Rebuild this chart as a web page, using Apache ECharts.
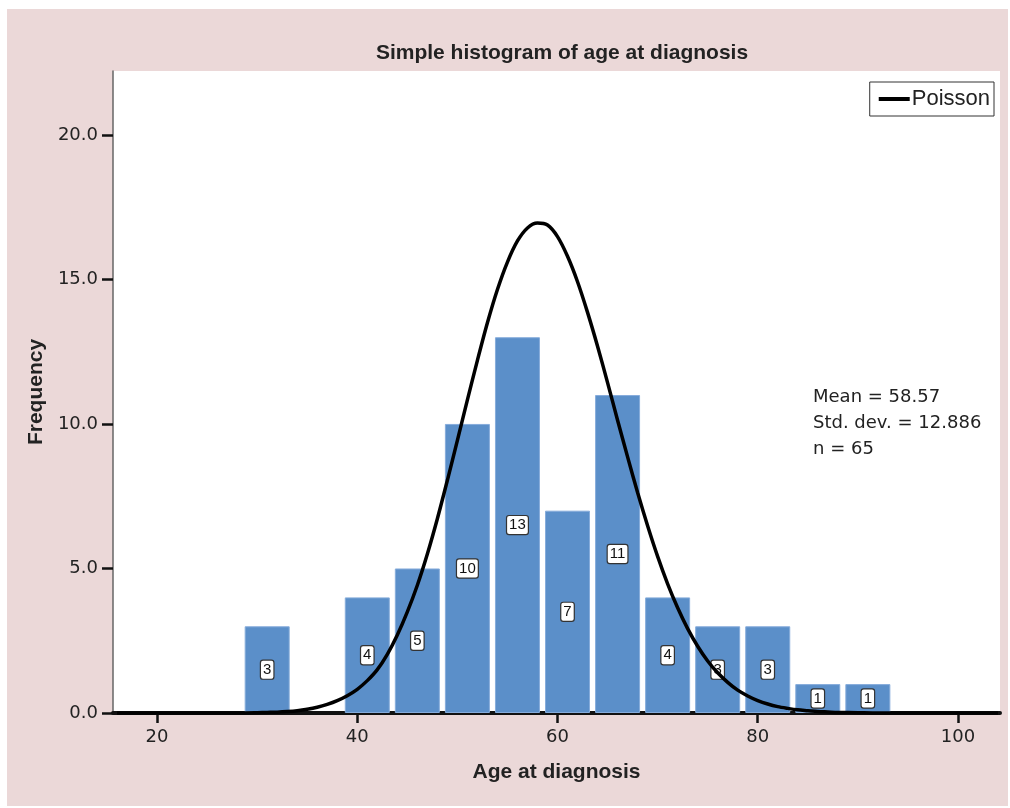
<!DOCTYPE html>
<html><head><meta charset="utf-8">
<script src="https://cdn.jsdelivr.net/npm/echarts@6/dist/echarts.min.js"></script>
<style>
html,body{margin:0;padding:0;background:#fff;}
#bg{position:absolute;left:7px;top:9px;width:1001px;height:797px;background:#ebd8d8;}
#chart{position:absolute;left:0;top:0;width:1010px;height:808px;}
</style></head>
<body>
<div id="bg"></div>
<div id="chart"></div>
<script>
// Histogram bins (centres) and frequencies
const binCentres = [31, 41, 46, 51, 56, 61, 66, 71, 76, 81, 86, 91];
const frequencies = [3, 4, 5, 10, 13, 7, 11, 4, 3, 3, 1, 1];
// Poisson curve
const curveX = [16, 28, 30, 31, 32, 33, 34, 35, 36, 37, 38, 39, 40, 41, 42, 43, 44, 45, 46, 47, 48, 49, 50,
  51, 52, 53, 54, 55, 56, 57, 58, 59, 60, 61, 62, 63, 64, 65, 66, 67, 68, 69, 70,
  71, 72, 73, 74, 75, 76, 77, 78, 79, 80, 81, 82, 83, 84, 85, 86, 87, 88, 90, 92, 104];
const curveY = [0, 0, 0.01, 0.02, 0.03, 0.05, 0.08, 0.13, 0.2, 0.3, 0.43, 0.6, 0.82, 1.12, 1.5, 2.03, 2.7, 3.5, 4.42, 5.5, 6.72, 8.05, 9.43,
  10.83, 12.2, 13.5, 14.65, 15.6, 16.33, 16.78, 16.95, 16.88, 16.48, 15.8, 14.92, 13.86, 12.69, 11.43, 10.13, 8.86, 7.63, 6.48, 5.42,
  4.47, 3.64, 2.92, 2.31, 1.8, 1.39, 1.06, 0.79, 0.59, 0.43, 0.31, 0.22, 0.16, 0.11, 0.08, 0.05, 0.035, 0.02, 0.01, 0, 0];
const xTicks = [20, 40, 60, 80, 100];
const yTicks = [0, 5, 10, 15, 20];
const statsLines = ['Mean = 58.57', 'Std. dev. = 12.886', 'n = 65'];

const BOLD = '"Liberation Sans", Arial, sans-serif';
const REG = '"DejaVu Sans", sans-serif';
const chart = echarts.init(document.getElementById('chart'));
const option = {
  animation: false,
  backgroundColor: 'transparent',
  title: {
    text: 'Simple histogram of age at diagnosis',
    left: 557, top: 38, textAlign: 'center',
    textStyle: {fontFamily: BOLD, fontSize: 21, fontWeight: 'bold', color: '#222'}
  },
  legend: {
    show: true, right: 16, top: 82,
    data: [{name: 'Poisson', icon: 'rect'}],
    itemWidth: 31, itemHeight: 4, itemGap: 2,
    backgroundColor: '#fff', borderColor: '#333', borderWidth: 1, borderRadius: 0,
    padding: [6, 4, 6, 9],
    textStyle: {fontFamily: BOLD, fontSize: 22, color: '#222', padding: [0, 0, 0, -3]}
  },
  grid: {left: 113, right: 10, top: 71, bottom: 95, show: true, backgroundColor: '#fff', borderWidth: 0},
  xAxis: {
    type: 'value', min: 15.6, max: 104.2,
    name: 'Age at diagnosis', nameLocation: 'middle', nameGap: 49,
    nameTextStyle: {fontFamily: BOLD, fontSize: 21, fontWeight: 'bold', color: '#222'},
    axisLine: {show: true, onZero: false, lineStyle: {color: '#111', width: 4}},
    axisTick: {show: true, customValues: xTicks, length: 10, lineStyle: {color: '#111', width: 2.5}},
    axisLabel: {customValues: xTicks, fontFamily: REG, fontSize: 18, color: '#222', margin: 15},
    splitLine: {show: false}
  },
  yAxis: {
    type: 'value', min: 0, max: 22.21, interval: 5,
    name: 'Frequency', nameLocation: 'middle', nameGap: 64, nameRotate: 90,
    nameTextStyle: {fontFamily: BOLD, fontSize: 21, fontWeight: 'bold', color: '#222'},
    axisLine: {show: true, lineStyle: {color: '#666', width: 1.5}},
    axisTick: {show: true, inside: false, customValues: yTicks, length: 11, lineStyle: {color: '#111', width: 2.5}},
    axisLabel: {customValues: yTicks, fontFamily: REG, fontSize: 18, color: '#222', margin: 15,
      formatter: v => Number(v).toFixed(1)},
    splitLine: {show: false}
  },
  series: [
    {
      name: 'Histogram', type: 'bar', barWidth: 45,
      data: binCentres.map((c, i) => [c, frequencies[i]]),
      itemStyle: {color: '#5b8fc9', borderColor: '#86acdb', borderWidth: 1},
      label: {
        show: true, position: 'inside',
        formatter: p => String(p.value[1]),
        fontFamily: BOLD, fontSize: 15, color: '#111',
        backgroundColor: '#fff', borderColor: '#333', borderWidth: 1.2, borderRadius: 2,
        padding: [2, 2, 1, 2]
      },
      z: 2
    },
    {
      name: 'Poisson', type: 'line', smooth: 0.3, showSymbol: false, symbol: 'none',
      data: curveX.map((x, i) => [x, curveY[i]]),
      lineStyle: {color: '#000', width: 3.5},
      itemStyle: {color: '#000'},
      clip: false,
      z: 3
    }
  ],
  graphic: statsLines.map((t, i) => ({
    type: 'text', left: 813, top: 388 + i * 26,
    style: {text: t, fontFamily: REG, fontSize: 18, fill: '#222'}
  }))
};
chart.setOption(option);
</script>
</body></html>
